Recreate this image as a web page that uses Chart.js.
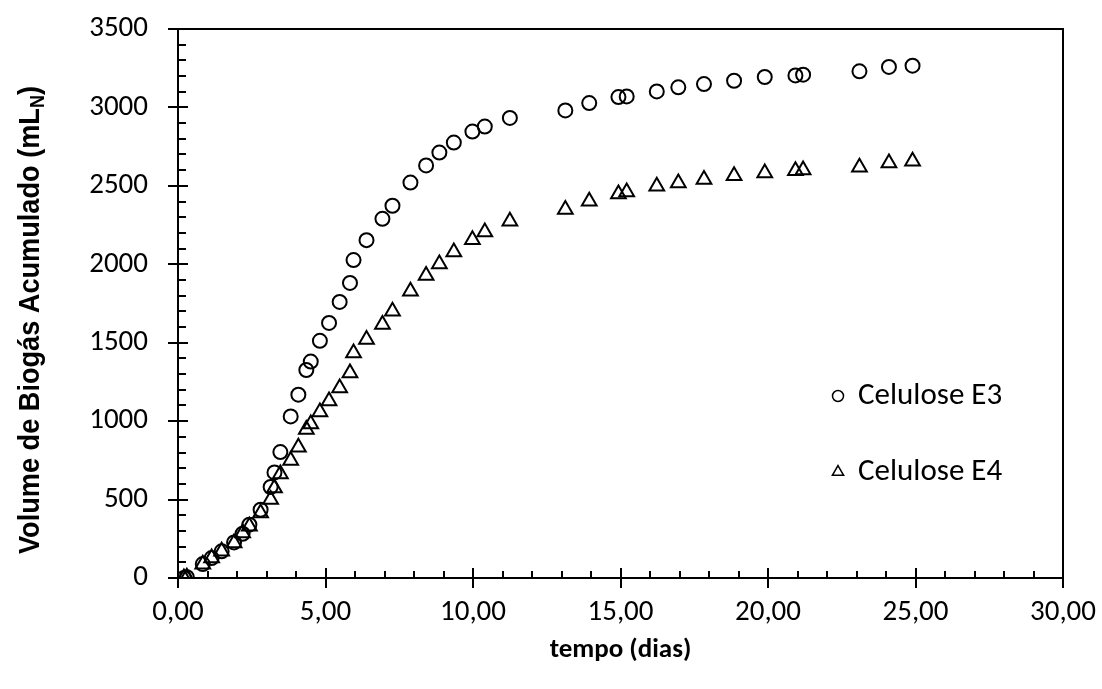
<!DOCTYPE html>
<html>
<head>
<meta charset="utf-8">
<script src="https://cdn.jsdelivr.net/npm/chart.js@4.4.1/dist/chart.umd.min.js"></script>
<style>
  html, body { margin: 0; padding: 0; background: #fff; }
  #wrap { width: 1102px; height: 689px; position: relative; }
</style>
</head>
<body>
<div id="wrap"><canvas id="c" width="1102" height="689"></canvas></div>
<script>
// ---- data ----
const dias = [0.2, 0.3, 0.84, 1.14, 1.48, 1.90, 2.19, 2.42, 2.80, 3.14,
              3.27, 3.47, 3.82, 4.08, 4.35, 4.50, 4.81, 5.12, 5.48, 5.83,
              5.95, 6.39, 6.93, 7.27, 7.88, 8.41, 8.86, 9.35, 9.98, 10.40,
              11.25, 13.13, 13.94, 14.93, 15.21, 16.23, 16.96, 17.83, 18.85, 19.89,
              20.93, 21.19, 23.10, 24.10, 24.90];
const celuloseE3 = [0, 5, 89, 127, 170, 227, 282, 340, 435, 580,
                    673, 803, 1030, 1169, 1326, 1380, 1512, 1626, 1760, 1881,
                    2027, 2154, 2290, 2373, 2521, 2630, 2712, 2776, 2846, 2878,
                    2933, 2981, 3028, 3066, 3070, 3102, 3128, 3149, 3170, 3194,
                    3204, 3209, 3230, 3258, 3266];
const celuloseE4 = [0, 5, 87, 128, 170, 223, 287, 330, 415, 500,
                    574, 663, 749, 833, 946, 982, 1058, 1129, 1211, 1307,
                    1435, 1520, 1616, 1700, 1828, 1928, 2002, 2079, 2157, 2206,
                    2274, 2349, 2402, 2448, 2461, 2497, 2518, 2540, 2565, 2582,
                    2597, 2601, 2618, 2646, 2657];
const seriesNames = ['Celulose E3', 'Celulose E4'];
const xTitle = 'tempo (dias)';
const yTitleMain = 'Volume de Biogás Acumulado (mL';
const yTitleSub = 'N';
const yTitleEnd = ')';

const toPts = (xs, ys) => xs.map((x, i) => ({ x: x, y: ys[i] }));
const fmtX = v => Number(v).toFixed(2).replace('.', ',');
const fmtY = v => String(v);

const TICK_FONT = { family: 'Carlito, Lato, sans-serif', size: 29 };

const framePlugin = {
  id: 'frame',
  afterDraw(chart) {
    const ctx = chart.ctx;
    const a = chart.chartArea;
    const xs = chart.scales.x, ys = chart.scales.y;
    ctx.save();
    ctx.strokeStyle = '#000';
    ctx.lineWidth = 2;
    ctx.beginPath();
    ctx.rect(a.left, a.top, a.right - a.left, a.bottom - a.top);
    ctx.stroke();
    for (let v = xs.min; v <= xs.max + 1e-9; v += 1) {
      const px = Math.round(xs.getPixelForValue(v));
      ctx.beginPath();
      if (Math.abs(v % 5) < 1e-9) { ctx.moveTo(px, a.bottom - 10); ctx.lineTo(px, a.bottom + 10); }
      else { ctx.moveTo(px, a.bottom - 7); ctx.lineTo(px, a.bottom); }
      ctx.stroke();
    }
    for (let v = ys.min; v <= ys.max + 1e-9; v += 100) {
      const py = Math.round(ys.getPixelForValue(v));
      ctx.beginPath();
      if (Math.abs(v % 500) < 1e-9) { ctx.moveTo(a.left - 10, py); ctx.lineTo(a.left + 10, py); }
      else { ctx.moveTo(a.left, py); ctx.lineTo(a.left + 8, py); }
      ctx.stroke();
    }
    // x title
    ctx.fillStyle = '#000';
    ctx.font = 'bold 27px Carlito, Lato, sans-serif';
    ctx.textAlign = 'center';
    ctx.textBaseline = 'middle';
    ctx.fillText(xTitle, (a.left + a.right) / 2, 650);
    // y title with subscript
    const big = 'bold 30px "Liberation Sans", Arial, sans-serif';
    const small = 'bold 20px "Liberation Sans", Arial, sans-serif';
    ctx.font = big;
    const w1 = ctx.measureText(yTitleMain).width;
    const w3 = ctx.measureText(yTitleEnd).width;
    ctx.font = small;
    const w2 = ctx.measureText(yTitleSub).width;
    const total = w1 + w2 + w3;
    const k = 468 / total;
    ctx.translate(28, 320);
    ctx.rotate(-Math.PI / 2);
    ctx.scale(k, 1);
    ctx.textAlign = 'left';
    ctx.textBaseline = 'alphabetic';
    let x0 = -total / 2;
    const base = 11;
    ctx.font = big; ctx.fillText(yTitleMain, x0, base); x0 += w1;
    ctx.font = small; ctx.fillText(yTitleSub, x0, base + 5); x0 += w2;
    ctx.font = big; ctx.fillText(yTitleEnd, x0, base);
    ctx.restore();

    // legend inside plot
    ctx.save();
    ctx.strokeStyle = '#000';
    ctx.fillStyle = '#000';
    ctx.lineWidth = 1.5;
    ctx.font = '31px Carlito, Lato, sans-serif';
    ctx.textAlign = 'left';
    ctx.textBaseline = 'middle';
    const lx = 838;
    const rows = [396, 472];
    chart.data.datasets.forEach((ds, i) => {
      const y = rows[i];
      ctx.beginPath();
      if (ds.pointStyle === 'circle') {
        ctx.arc(lx, y, 5.5, 0, Math.PI * 2);
      } else {
        const r = 6.5;
        ctx.moveTo(lx, y - r);
        ctx.lineTo(lx + r * 0.866, y + r * 0.5);
        ctx.lineTo(lx - r * 0.866, y + r * 0.5);
        ctx.closePath();
      }
      ctx.stroke();
      ctx.fillText(ds.label, lx + 20, y);
    });
    ctx.restore();
  }
};

new Chart(document.getElementById('c'), {
  type: 'scatter',
  data: {
    datasets: [
      { label: seriesNames[0], data: toPts(dias, celuloseE3), pointStyle: 'circle',
        pointRadius: 7, pointHoverRadius: 7, borderColor: '#000', backgroundColor: 'rgba(0,0,0,0)',
        pointBorderWidth: 2, borderWidth: 2, showLine: false },
      { label: seriesNames[1], data: toPts(dias, celuloseE4), pointStyle: 'triangle',
        pointRadius: 8.5, pointHoverRadius: 8.5, borderColor: '#000', backgroundColor: 'rgba(0,0,0,0)',
        pointBorderWidth: 2, borderWidth: 2, showLine: false }
    ]
  },
  options: {
    responsive: false,
    animation: false,
    layout: { padding: { top: 29, right: 39, left: 0, bottom: 0 } },
    plugins: { legend: { display: false }, tooltip: { enabled: false }, title: { display: false } },
    scales: {
      x: {
        type: 'linear', min: 0, max: 30,
        grid: { display: false, drawTicks: false },
        border: { display: false },
        ticks: { stepSize: 5, color: '#000', font: TICK_FONT, padding: 17, callback: v => fmtX(v), maxRotation: 0, autoSkip: false },
        afterFit: s => { s.height = 111; s.paddingLeft = 0; s.paddingRight = 0; }
      },
      y: {
        type: 'linear', min: 0, max: 3500,
        grid: { display: false, drawTicks: false },
        border: { display: false },
        ticks: { stepSize: 500, color: '#000', font: TICK_FONT, padding: 30, callback: v => fmtY(v) },
        afterFit: s => { s.width = 178; s.paddingTop = 0; s.paddingBottom = 0; }
      }
    }
  },
  plugins: [framePlugin]
});
</script>
</body>
</html>
